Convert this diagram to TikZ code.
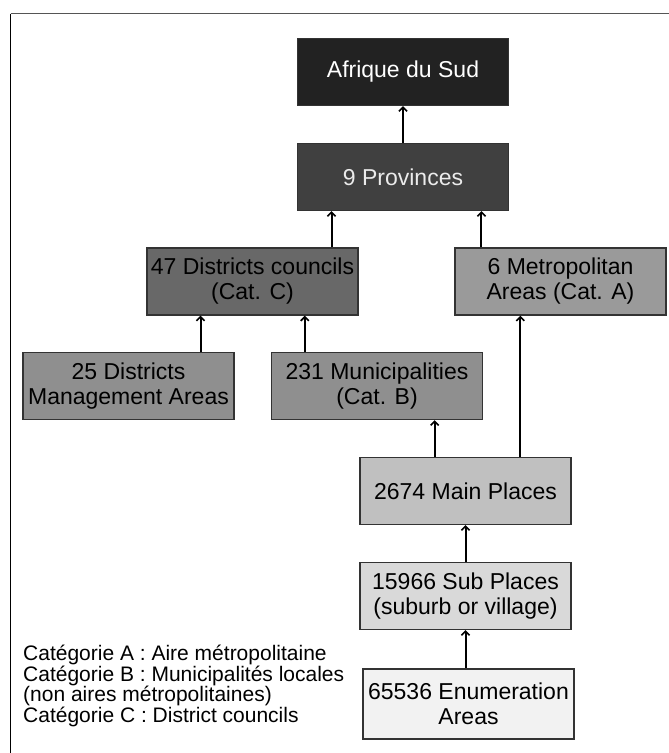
\documentclass[tikz,border=0pt]{standalone}
\usepackage{fontspec}
\setmainfont{Liberation Sans}
\usetikzlibrary{arrows.meta,calc}
\definecolor{cA}{HTML}{222222}
\definecolor{cP}{HTML}{404040}
\definecolor{cD}{HTML}{686868}
\definecolor{cM}{HTML}{9A9A9A}
\definecolor{cB}{HTML}{8F8F8F}
\definecolor{cMain}{HTML}{C0C0C0}
\definecolor{cSub}{HTML}{D9D9D9}
\definecolor{cEnum}{HTML}{F2F2F2}
\definecolor{edge}{HTML}{333333}
\definecolor{frameg}{HTML}{555555}
\begin{document}
\begin{tikzpicture}[x=1pt,y=-1pt,
  box/.style={draw=edge,line width=1.4pt,minimum width=211pt,minimum height=67pt,
    inner sep=0pt,align=center,font=\fontsize{23}{25}\selectfont},
  arr/.style={line width=2pt,draw=black,-{Straight Barb[length=4pt,width=8pt,line width=1.6pt]}}]
\useasboundingbox (0,0) rectangle (669,753);
\draw[frameg,line width=1.8pt] (10.5,13.5) -- (669,13.5);
\draw[black,line width=1.4pt] (10.5,13.5) -- (10.5,753);
\node[box,fill=cA,text=white] (afr) at (403,72) {Afrique du Sud};
\node[box,fill=cP,text=white!92!black] (prov) at (403,177) {9 Provinces};
\node[box,fill=cD] (dc) at (252.5,281.5) {47 Districts councils\\(Cat. C)};
\node[box,fill=cM] (metro) at (560.5,281.5) {6 Metropolitan\\Areas (Cat. A)};
\node[box,fill=cB] (dma) at (128.5,386) {25 Districts\\Management Areas};
\node[box,fill=cB] (mun) at (377,386) {231 Municipalities\\(Cat. B)};
\node[box,fill=cMain] (main) at (465.5,491) {2674 Main Places};
\node[box,fill=cSub] (sub) at (465.5,596) {15966 Sub Places\\(suburb or village)};
\node[box,fill=cEnum,minimum height=70pt] (enum) at (468.5,704) {65536 Enumeration\\Areas};
\node[anchor=north west,inner sep=0pt,align=left,font=\fontsize{21}{20.5}\selectfont] (leg) at (23,645)
  {Catégorie A : Aire métropolitaine\\Catégorie B : Municipalités locales\\(non aires métropolitaines)\\Catégorie C : District councils};
% connectors
\draw[arr] (prov.north) -- (afr.south);
\draw[arr] ($(dc.north west)!0.872!(dc.north east)$) coordinate (t1) -- (t1 |- prov.south);
\draw[arr] ($(metro.north west)!0.128!(metro.north east)$) coordinate (t2) -- (t2 |- prov.south);
\draw[arr] ($(dma.north west)!0.839!(dma.north east)$) coordinate (t3) -- (t3 |- dc.south);
\draw[arr] ($(mun.north west)!0.16!(mun.north east)$) coordinate (t4) -- (t4 |- dc.south);
\draw[arr] ($(main.north west)!0.355!(main.north east)$) coordinate (t5) -- (t5 |- mun.south);
\draw[arr] ($(main.north west)!0.758!(main.north east)$) coordinate (t6) -- (t6 |- metro.south);
\draw[arr] (sub.north -| main.south) -- (main.south);
\draw[arr] (enum.north -| sub.south) -- (sub.south);
\end{tikzpicture}
\end{document}
